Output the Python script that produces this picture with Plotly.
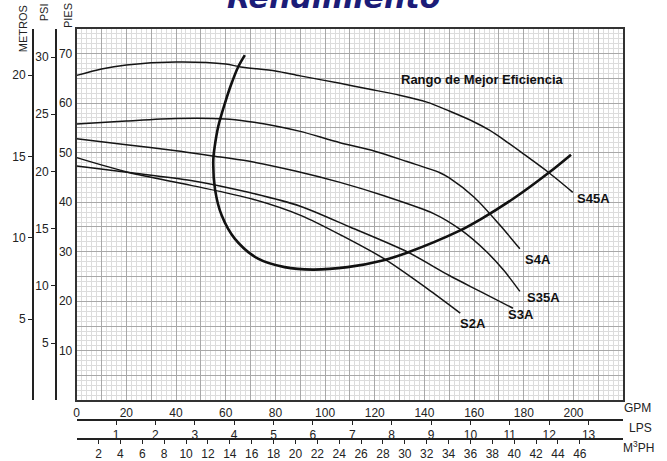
import plotly.graph_objects as go

# ---------------- data (GPM vs head in feet) ----------------
s45a_gpm = [0, 10, 20, 40, 60, 66, 80, 90, 106, 117, 130, 141, 150, 160, 166, 172, 180, 190, 199.7]
s45a_ft = [65.6, 66.9, 67.7, 68.3, 67.9, 67.3, 66.5, 65.5, 64, 62.9, 61.6, 60.2, 58.4, 56.2, 54.6, 52.6, 49.7, 46, 42]

s4a_gpm = [0, 20, 40, 60, 69, 80, 90, 106, 120, 133, 146, 150, 160, 170, 178.4]
s4a_ft = [55.8, 56.4, 56.9, 56.8, 56.3, 55.4, 54.3, 52, 50.3, 48.2, 46, 44.9, 41, 35.6, 30.6]

s35a_gpm = [0, 20, 40, 54, 69, 88, 106, 123.7, 143.7, 154.4, 165, 172, 178.4]
s35a_ft = [52.8, 51.6, 50.4, 49.4, 48.3, 46.3, 44, 41.3, 37.7, 34.5, 30, 26.2, 22]

s3a_gpm = [0, 21, 46, 70, 90, 110, 133, 150, 162.4, 175.6]
s3a_ft = [47.3, 46, 44.4, 41.9, 39.2, 35, 30, 25.2, 22.0, 18.6]

s2a_gpm = [0, 21, 46, 71, 90.4, 107, 123.7, 141, 154.4]
s2a_ft = [49, 46, 43.4, 40.6, 37.3, 33.2, 28.6, 22.6, 17.6]

sys_gpm = [67.7, 65, 62, 59.7, 57, 55.5, 55, 55.7, 58.4, 63.7, 73, 83.7, 95,
           109, 123.6, 133, 154.4, 162.4, 176, 190.4, 199]
sys_ft = [69.7, 67.3, 63.5, 60, 55.3, 51, 48.6, 42.6, 37.3, 32.6, 28.6, 26.9, 26.4,
          26.9, 28.3, 29.8, 34.3, 36.5, 40.8, 46.1, 49.6]

curve_names = ["S45A", "S4A", "S35A", "S3A", "S2A"]
label_gpm = [200.4, 179.6, 180.4, 173, 153.7]
label_ft = [40.8, 28.5, 20.7, 17.3, 15.6]

gpm_tickvals = list(range(0, 221, 10))
gpm_ticktext = ["0", "", "20", "", "40", "", "60", "", "80", "", "100", "", "120", "",
                "140", "", "160", "", "180", "", "200", "", ""]
ft_tickvals = list(range(0, 76, 5))
ft_ticktext = ["", "", "10", "", "20", "", "30", "", "40", "", "50", "", "60", "", "70", ""]
psi_ticks = [5, 10, 15, 20, 25, 30]
m_ticks = [5, 10, 15, 20]
lps_ticks = list(range(1, 14))
m3h_ticks = list(range(2, 47, 2))

GPM_MAX = 220
FT_MAX = 75
FT_PER_PSI = 2.31
FT_PER_M = 3.281
GPM_PER_LPS = 15.85
GPM_PER_M3H = 4.403

W, H = 667, 461
L, R, T, B = 74, 623, 29, 403
INK = "#222222"

fig = go.Figure()
for gx, gy in [(s45a_gpm, s45a_ft), (s4a_gpm, s4a_ft), (s35a_gpm, s35a_ft),
               (s3a_gpm, s3a_ft), (s2a_gpm, s2a_ft)]:
    fig.add_trace(go.Scatter(x=gx, y=gy, mode="lines",
                             line=dict(color="#151515", width=1.5, shape="spline", smoothing=0.8),
                             showlegend=False, hoverinfo="skip"))
fig.add_trace(go.Scatter(x=sys_gpm, y=sys_ft, mode="lines",
                         line=dict(color="#111111", width=2.6, shape="spline", smoothing=0.9),
                         showlegend=False, hoverinfo="skip"))
# dummy traces to register the secondary scales
for xa, ya in [("x", "y2"), ("x", "y3"), ("x2", "y"), ("x3", "y")]:
    fig.add_trace(go.Scatter(x=[None], y=[None], xaxis=xa, yaxis=ya, mode="lines",
                             showlegend=False, hoverinfo="skip"))

tickfont = dict(family="Liberation Sans, Arial", size=12, color=INK)
xdom = [L / W, R / W]
ydom = [(H - B) / H, (H - T) / H]

fig.update_layout(
    width=W, height=H,
    margin=dict(l=0, r=0, t=0, b=0),
    paper_bgcolor="white", plot_bgcolor="white",
    showlegend=False,
    font=dict(family="Liberation Sans, Arial", size=12, color=INK),
    xaxis=dict(domain=xdom, range=[0, GPM_MAX], tickmode="array",
               tickvals=gpm_tickvals, ticktext=gpm_ticktext, tickfont=tickfont,
               showgrid=True, gridcolor="#a8a8a8", gridwidth=1,
               minor=dict(tickmode="linear", tick0=0, dtick=2, showgrid=True,
                          gridcolor="#dcdcdc", gridwidth=1),
               showline=True, linecolor="#333333", linewidth=2, mirror=True,
               zeroline=False, ticks=""),
    yaxis=dict(domain=ydom, range=[0, FT_MAX], tickmode="array",
               tickvals=ft_tickvals, ticktext=ft_ticktext, tickfont=tickfont,
               showgrid=True, gridcolor="#a8a8a8", gridwidth=1,
               minor=dict(tickmode="linear", tick0=0, dtick=1, showgrid=True,
                          gridcolor="#dcdcdc", gridwidth=1),
               showline=True, linecolor="#333333", linewidth=2, mirror=True,
               zeroline=False, ticks=""),
    yaxis2=dict(overlaying="y", anchor="free", position=53 / W, side="left",
                range=[0, FT_MAX / FT_PER_PSI], tickmode="array", tickvals=psi_ticks,
                ticks="outside", ticklen=4, tickcolor=INK, tickwidth=1, tickfont=tickfont,
                showline=True, linecolor=INK, linewidth=1.5, showgrid=False, zeroline=False),
    yaxis3=dict(overlaying="y", anchor="free", position=30 / W, side="left",
                range=[0, FT_MAX / FT_PER_M], tickmode="array", tickvals=m_ticks,
                ticks="outside", ticklen=4, tickcolor=INK, tickwidth=1, tickfont=tickfont,
                showline=True, linecolor=INK, linewidth=1.5, showgrid=False, zeroline=False),
    xaxis2=dict(overlaying="x", anchor="free", position=(H - 423) / H, side="bottom",
                range=[0, GPM_MAX / GPM_PER_LPS], tickmode="array", tickvals=lps_ticks,
                ticks="outside", ticklen=4, tickcolor=INK, tickwidth=1, tickfont=tickfont,
                showline=True, linecolor=INK, linewidth=1.5, showgrid=False, zeroline=False),
    xaxis3=dict(overlaying="x", anchor="free", position=(H - 442) / H, side="bottom",
                range=[0, GPM_MAX / GPM_PER_M3H], tickmode="array", tickvals=m3h_ticks,
                ticks="outside", ticklen=4, tickcolor=INK, tickwidth=1, tickfont=tickfont,
                showline=True, linecolor=INK, linewidth=1.5, showgrid=False, zeroline=False),
)

ann = []
labfont = dict(family="Liberation Sans, Arial", size=13, color="#111111")
for n, gx, gy in zip(curve_names, label_gpm, label_ft):
    ann.append(dict(x=gx, y=gy, xref="x", yref="y", text="<b>%s</b>" % n, showarrow=False,
                    xanchor="left", yanchor="middle", font=labfont))
ann.append(dict(x=129.6, y=64.8, xref="x", yref="y", text="<b>Rango de Mejor Eficiencia</b>",
                showarrow=False, xanchor="left", yanchor="middle", font=labfont))
# unit labels
ann.append(dict(x=622 / W, y=(H - 411) / H, xref="paper", yref="paper", text="GPM",
                showarrow=False, xanchor="left", yanchor="middle", font=tickfont))
ann.append(dict(x=627 / W, y=(H - 431) / H, xref="paper", yref="paper", text="LPS",
                showarrow=False, xanchor="left", yanchor="middle", font=tickfont))
ann.append(dict(x=621 / W, y=(H - 450) / H, xref="paper", yref="paper", text="M<sup>3</sup>PH",
                showarrow=False, xanchor="left", yanchor="middle", font=tickfont))
# vertical titles
titfont = dict(family="Liberation Sans, Arial", size=11, color=INK)
for txt, cx, cy in [("METROS", 20, 28.5), ("PSI", 42, 12.5), ("PIES", 66, 15.5)]:
    ann.append(dict(x=cx / W, y=(H - cy) / H, xref="paper", yref="paper", text=txt,
                    textangle=-90, showarrow=False, xanchor="center", yanchor="middle",
                    font=titfont))
# cut-off heading
ann.append(dict(x=332 / W, y=1 - 17 / H, xref="paper", yref="paper",
                text="<b><i>Rendimiento</i></b>", showarrow=False, xanchor="center",
                yanchor="bottom",
                font=dict(family="DejaVu Sans, Liberation Sans", size=30, color="#1c1c78")))
fig.update_layout(annotations=ann)

fig.write_html("out.html", config={"displayModeBar": False},
               post_script="document.body.style.margin='0';document.body.style.padding='0';")
